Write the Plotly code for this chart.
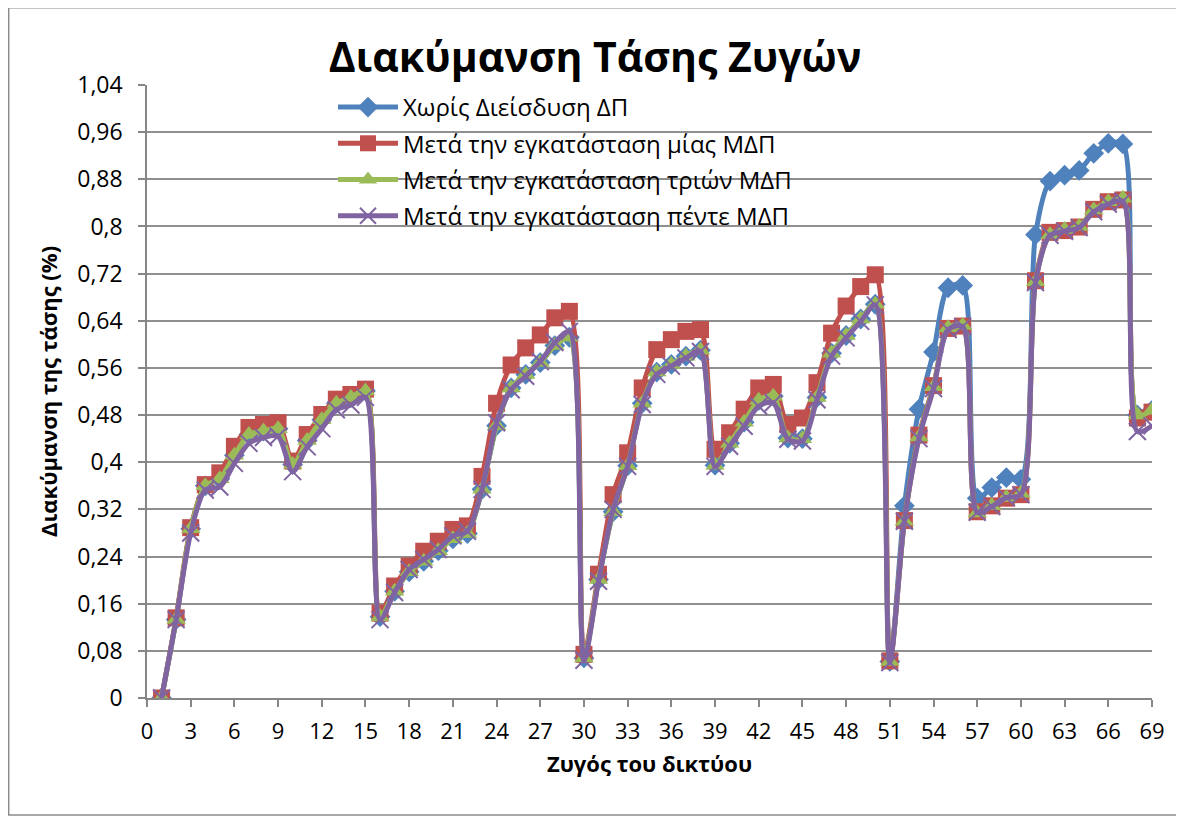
import plotly.graph_objects as go

bus = list(range(1, 70))

no_dg = [0, 0.133, 0.287, 0.36, 0.372, 0.412, 0.447, 0.453, 0.457, 0.396,
         0.437, 0.472, 0.5, 0.51, 0.521, 0.138, 0.181, 0.214, 0.232, 0.25,
         0.27, 0.279, 0.354, 0.462, 0.526, 0.549, 0.569, 0.598, 0.612, 0.068,
         0.201, 0.316, 0.394, 0.5, 0.553, 0.566, 0.58, 0.59, 0.395, 0.432,
         0.468, 0.505, 0.512, 0.441, 0.44, 0.51, 0.585, 0.615, 0.643, 0.668,
         0.062, 0.326, 0.49, 0.587, 0.696, 0.70, 0.339, 0.357, 0.374, 0.371,
         0.786, 0.877, 0.887, 0.895, 0.924, 0.941, 0.94, 0.48, 0.488]

one_dg = [0, 0.136, 0.289, 0.362, 0.382, 0.427, 0.459, 0.464, 0.467, 0.402,
          0.447, 0.481, 0.507, 0.515, 0.524, 0.144, 0.19, 0.224, 0.249, 0.266,
          0.286, 0.292, 0.376, 0.50, 0.565, 0.594, 0.616, 0.645, 0.656, 0.074,
          0.21, 0.345, 0.416, 0.526, 0.591, 0.608, 0.622, 0.625, 0.422, 0.45,
          0.49, 0.526, 0.532, 0.464, 0.475, 0.535, 0.619, 0.665, 0.698, 0.718,
          0.063, 0.301, 0.446, 0.53, 0.627, 0.631, 0.316, 0.326, 0.339, 0.345,
          0.708, 0.79, 0.793, 0.799, 0.829, 0.842, 0.845, 0.475, 0.485]

three_dg = [0, 0.133, 0.287, 0.36, 0.372, 0.412, 0.447, 0.453, 0.457, 0.396,
            0.437, 0.472, 0.5, 0.51, 0.521, 0.138, 0.181, 0.214, 0.232, 0.25,
            0.27, 0.279, 0.354, 0.462, 0.526, 0.549, 0.569, 0.598, 0.612, 0.068,
            0.201, 0.316, 0.394, 0.5, 0.553, 0.566, 0.58, 0.59, 0.395, 0.432,
            0.468, 0.505, 0.512, 0.441, 0.44, 0.51, 0.585, 0.615, 0.643, 0.668,
            0.062, 0.30, 0.443, 0.528, 0.628, 0.632, 0.314, 0.326, 0.34, 0.347,
            0.706, 0.786, 0.795, 0.8, 0.828, 0.842, 0.848, 0.48, 0.488]

five_dg = [0, 0.133, 0.28, 0.353, 0.358, 0.398, 0.432, 0.442, 0.444, 0.384,
           0.426, 0.457, 0.489, 0.497, 0.51, 0.133, 0.179, 0.218, 0.235, 0.252,
           0.275, 0.283, 0.354, 0.467, 0.523, 0.546, 0.571, 0.603, 0.622, 0.064,
           0.198, 0.32, 0.393, 0.498, 0.549, 0.563, 0.577, 0.588, 0.393, 0.427,
           0.461, 0.495, 0.501, 0.439, 0.436, 0.506, 0.58, 0.611, 0.639, 0.667,
           0.06, 0.30, 0.44, 0.525, 0.625, 0.63, 0.315, 0.325, 0.34, 0.345,
           0.705, 0.785, 0.792, 0.798, 0.825, 0.838, 0.843, 0.452, 0.462]

series_names = ["Χωρίς Διείσδυση ΔΠ",
                "Μετά την εγκατάσταση μίας ΜΔΠ",
                "Μετά την εγκατάσταση τριών ΜΔΠ",
                "Μετά την εγκατάσταση πέντε ΜΔΠ"]

y_tickvals = [0, 0.08, 0.16, 0.24, 0.32, 0.4, 0.48, 0.56, 0.64, 0.72, 0.8, 0.88, 0.96, 1.04]
y_ticktext = ["0", "0,08", "0,16", "0,24", "0,32", "0,4", "0,48", "0,56", "0,64",
              "0,72", "0,8", "0,88", "0,96", "1,04"]
x_tickvals = list(range(0, 70, 3))

FONT = "Open Sans"
colors = ["#4F81BD", "#C0504D", "#9BBB59", "#8064A2"]
symbols = ["diamond", "square", "triangle-up", "x-thin"]
sizes = [16, 17, 17, 17]
data = [no_dg, one_dg, three_dg, five_dg]

fig = go.Figure()
for i, (name, ys) in enumerate(zip(series_names, data)):
    marker = dict(symbol=symbols[i], size=sizes[i], color=colors[i])
    if symbols[i] == "x-thin":
        marker["line"] = dict(color=colors[i], width=2)
    else:
        marker["line"] = dict(color=colors[i], width=0)
    fig.add_trace(go.Scatter(
        x=bus, y=ys, name=name, mode="lines+markers",
        line=dict(color=colors[i], width=5, shape="spline", smoothing=0.8),
        marker=marker, legendgroup=f"g{i}",
    ))

# figure is drawn with an 8px page offset
OFF = 8
W, H = 1176, 811
L, R, T, B = 147 - OFF, 32, 85 - OFF, 121
pw, ph = W - L - R, H - T - B


def px2x(px):
    return (px - OFF - L) / pw


def px2y(py):
    return (H - B - (py - OFF)) / ph


fig.update_layout(
    width=W, height=H,
    margin=dict(l=L, r=R, t=T, b=B),
    paper_bgcolor="white", plot_bgcolor="white",
    font=dict(family=FONT, color="black"),
    title=dict(text="<b>Διακύμανση Τάσης Ζυγών</b>", x=(595 - OFF) / W, xanchor="center",
               y=1 - (58 - OFF) / H, yanchor="middle", font=dict(size=41, family=FONT)),
    showlegend=True,
    legend=dict(x=px2x(333), y=px2y(85), xanchor="left", yanchor="top",
                bgcolor="rgba(0,0,0,0)", font=dict(size=24, family=FONT),
                tracegroupgap=2, itemwidth=60),
    xaxis=dict(range=[0, 69], tickvals=x_tickvals, showgrid=False,
               showline=True, linecolor="#868686", linewidth=1.5,
               ticks="outside", ticklen=7, tickcolor="#868686", tickwidth=1.5,
               ticklabelstandoff=6,
               tickfont=dict(size=22, family=FONT), zeroline=False,
               title=dict(text="<b>Ζυγός του δικτύου</b>", font=dict(size=22, family=FONT),
                          standoff=12)),
    yaxis=dict(range=[0, 1.04], tickvals=y_tickvals, ticktext=y_ticktext,
               showgrid=True, gridcolor="#8f8f8f", gridwidth=1.5,
               showline=True, linecolor="#868686", linewidth=1.5,
               ticks="outside", ticklen=7, tickcolor="#868686", tickwidth=1.5,
               ticklabelstandoff=11,
               tickfont=dict(size=23, family=FONT), zeroline=False,
               title=dict(text="<b>Διακύμανση της τάσης (%)</b>", font=dict(size=22, family=FONT),
                          standoff=14)),
)

fig.add_shape(type="rect", xref="paper", yref="paper",
              x0=px2x(8.7), x1=px2x(1180), y0=px2y(815), y1=px2y(7.7),
              line=dict(color="#8c8c8c", width=1.5), fillcolor="rgba(0,0,0,0)",
              layer="below")

fig.write_html("out.html")
